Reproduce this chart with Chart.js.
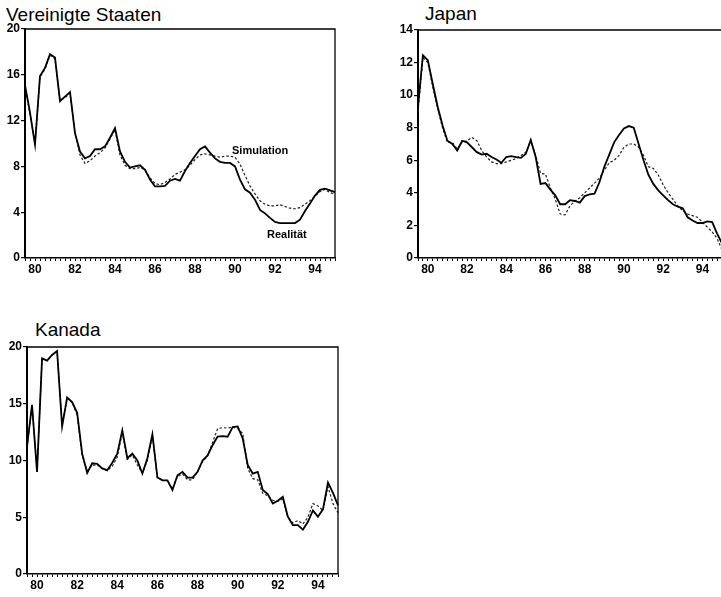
<!DOCTYPE html>
<html>
<head>
<meta charset="utf-8">
<script src="https://cdn.jsdelivr.net/npm/chart.js@4"></script>
<style>
  html, body { margin: 0; padding: 0; background: #fff; width: 721px; height: 597px; overflow: hidden; position: relative; }
  .box { position: absolute; }
  .title { position: absolute; font-family: "Liberation Sans", Arial, sans-serif; font-size: 19px; color: #000; line-height: 19px; white-space: nowrap; }
  .note { position: absolute; font-family: "Liberation Sans", Arial, sans-serif; font-size: 11px; font-weight: bold; color: #000; line-height: 11px; white-space: nowrap; }
</style>
</head>
<body>

<div class="title" style="left:6px; top:5px;">Vereinigte Staaten</div>
<div class="title" style="left:425px; top:4px;">Japan</div>
<div class="title" style="left:35px; top:320px;">Kanada</div>

<div class="box" style="left:0px; top:20px; width:340px; height:260px;"><canvas id="us"></canvas></div>
<div class="box" style="left:390px; top:20px; width:340px; height:260px;"><canvas id="jp"></canvas></div>
<div class="box" style="left:0px; top:336px; width:345px; height:260px;"><canvas id="ca"></canvas></div>

<div class="note" style="left:232px; top:145px;">Simulation</div>
<div class="note" style="left:267px; top:229px;">Realität</div>

<script>
// Quarterly categories 1980Q1 .. 1995Q3
const quarters = [];
for (let y = 1980; y <= 1995; y++) {
  for (let q = 1; q <= 4; q++) {
    if (y === 1995 && q > 3) break;
    quarters.push(y + "Q" + q);
  }
}

// Vereinigte Staaten
const usReal = [15.1,12.7,9.9,15.9,16.6,17.8,17.5,13.7,14.1,14.5,
  10.9,9.3,8.7,8.9,9.5,9.5,9.75,10.5,11.35,9.3,
  8.4,7.9,8.0,8.1,7.7,6.85,6.25,6.25,6.3,6.75,
  6.9,6.75,7.6,8.3,8.9,9.5,9.75,9.2,8.7,8.4,
  8.3,8.3,8.0,6.85,6.0,5.7,5.1,4.2,3.9,3.5,
  3.15,3.05,3.05,3.05,3.05,3.35,4.1,4.75,5.45,5.95,
  6.05,5.9,5.75];
const usSim = [15.0,12.6,10.0,15.8,16.5,17.7,17.4,13.8,14.0,14.4,
  11.0,9.0,8.25,8.5,8.9,9.2,9.6,10.4,11.2,9.0,
  8.1,7.8,7.8,7.9,7.7,7.0,6.5,6.4,6.6,6.9,
  7.3,7.5,7.7,8.1,8.6,9.0,9.1,9.0,8.9,8.8,
  8.9,8.9,8.8,8.2,7.2,6.3,5.6,5.0,4.7,4.55,
  4.55,4.65,4.5,4.35,4.3,4.4,4.7,5.0,5.4,5.8,
  6.0,5.7,5.6];

// Japan
const jpReal = [9.3,12.45,12.15,10.7,9.3,8.15,7.2,7.0,6.6,7.2,
  7.1,6.8,6.5,6.35,6.4,6.2,6.05,5.85,6.2,6.25,
  6.2,6.15,6.4,7.25,6.2,4.55,4.6,4.2,3.85,3.3,
  3.3,3.55,3.5,3.4,3.8,3.9,3.95,4.65,5.6,6.35,
  7.1,7.55,7.95,8.1,8.0,7.0,6.0,5.1,4.55,4.15,
  3.85,3.55,3.3,3.15,3.05,2.5,2.3,2.15,2.15,2.25,
  2.2,1.5,0.9];
const jpSim = [9.0,12.3,12.0,10.5,9.2,8.0,7.1,7.1,6.7,7.1,
  7.2,7.4,7.2,6.6,6.2,5.9,5.8,5.8,5.9,6.0,
  6.1,6.3,6.5,7.2,6.3,5.2,5.15,4.3,3.6,2.7,
  2.65,3.2,3.5,3.7,4.0,4.3,4.6,4.9,5.4,5.85,
  6.0,6.3,6.8,7.0,7.0,6.8,6.3,5.6,5.5,5.1,
  4.5,4.0,3.6,3.2,2.9,2.7,2.6,2.5,2.2,1.9,
  1.6,1.2,0.5];

// Kanada
const caReal = [11.2,14.9,9.0,19.0,18.8,19.3,19.65,13.0,15.55,15.15,
  14.2,10.6,8.9,9.75,9.7,9.3,9.15,9.8,10.6,12.65,
  10.2,10.6,10.0,8.85,10.2,12.3,8.5,8.25,8.25,7.4,
  8.7,9.0,8.5,8.5,9.0,10.0,10.45,11.35,12.1,12.15,
  12.1,12.95,13.0,11.95,9.6,8.85,9.0,7.4,7.05,6.2,
  6.45,6.8,5.05,4.3,4.3,3.9,4.6,5.6,5.05,5.7,
  8.05,7.15,6.05];
const caSim = [11.2,14.8,9.1,18.9,18.8,19.3,19.6,13.1,15.5,15.1,
  14.0,10.4,9.1,9.6,9.6,9.3,9.1,9.5,10.3,12.5,
  10.1,10.5,9.6,8.9,10.0,12.2,8.5,8.3,8.2,7.5,
  8.6,8.8,8.3,8.3,9.0,9.9,10.4,11.6,12.8,12.9,
  12.85,12.95,12.8,12.4,9.3,8.4,8.3,7.1,6.9,6.5,
  6.4,6.6,5.0,4.5,4.7,4.4,5.0,6.2,6.0,5.6,
  7.7,6.2,5.4];

const tickFont = { family: "Liberation Sans, Arial, sans-serif", size: 12, weight: "bold" };

// draws top and right edges of the plot frame
const frame = {
  id: "frame",
  afterDraw(chart) {
    const a = chart.chartArea, ctx = chart.ctx;
    ctx.save();
    ctx.strokeStyle = "#000";
    ctx.lineWidth = 1.3;
    ctx.beginPath();
    ctx.moveTo(a.left, a.top);
    ctx.lineTo(a.right, a.top);
    ctx.lineTo(a.right, a.bottom);
    ctx.stroke();
    ctx.restore();
  }
};

function makeChart(id, real, sim, yMax, yStep, yWidth, pad) {
  new Chart(document.getElementById(id), {
    type: "line",
    data: {
      labels: quarters,
      datasets: [
        { label: "Realität", data: real, borderColor: "#000", borderWidth: 1.8,
          pointRadius: 0, tension: 0, fill: false },
        { label: "Simulation", data: sim, borderColor: "#222", borderWidth: 1.2,
          borderDash: [2.5, 2], pointRadius: 0, tension: 0, fill: false }
      ]
    },
    options: {
      responsive: true,
      maintainAspectRatio: false,
      animation: false,
      layout: { padding: { top: pad.top, right: pad.right, left: 0, bottom: 0 } },
      plugins: { legend: { display: false }, tooltip: { enabled: false } },
      scales: {
        x: {
          type: "category",
          offset: false,
          afterFit(scale) { scale.height = 22; },
          border: { display: true, color: "#000", width: 1.5 },
          grid: { drawOnChartArea: false, drawTicks: true, tickLength: 3, color: "#000", lineWidth: 1 },
          ticks: {
            autoSkip: false, maxRotation: 0, minRotation: 0, padding: 1,
            color: "#000", font: tickFont,
            callback(v, i) {
              const lab = quarters[i];
              const yr = parseInt(lab.slice(0, 4));
              if (lab.endsWith("Q3") && yr % 2 === 0) return String(yr).slice(2);
              return "";
            }
          }
        },
        y: {
          min: 0, max: yMax,
          afterFit(scale) { scale.width = yWidth; },
          border: { display: true, color: "#000", width: 2 },
          grid: { drawOnChartArea: false, drawTicks: true, tickLength: 4, color: "#000", lineWidth: 1.2 },
          ticks: { stepSize: yStep, padding: 1, color: "#000", font: tickFont }
        }
      }
    },
    plugins: [frame]
  });
}

makeChart("us", usReal, usSim, 20, 4, 25, { top: 9, right: 5 });
makeChart("jp", jpReal, jpSim, 14, 2, 28, { top: 10, right: 8 });
makeChart("ca", caReal, caSim, 20, 5, 27, { top: 11, right: 7 });
</script>
</body>
</html>
